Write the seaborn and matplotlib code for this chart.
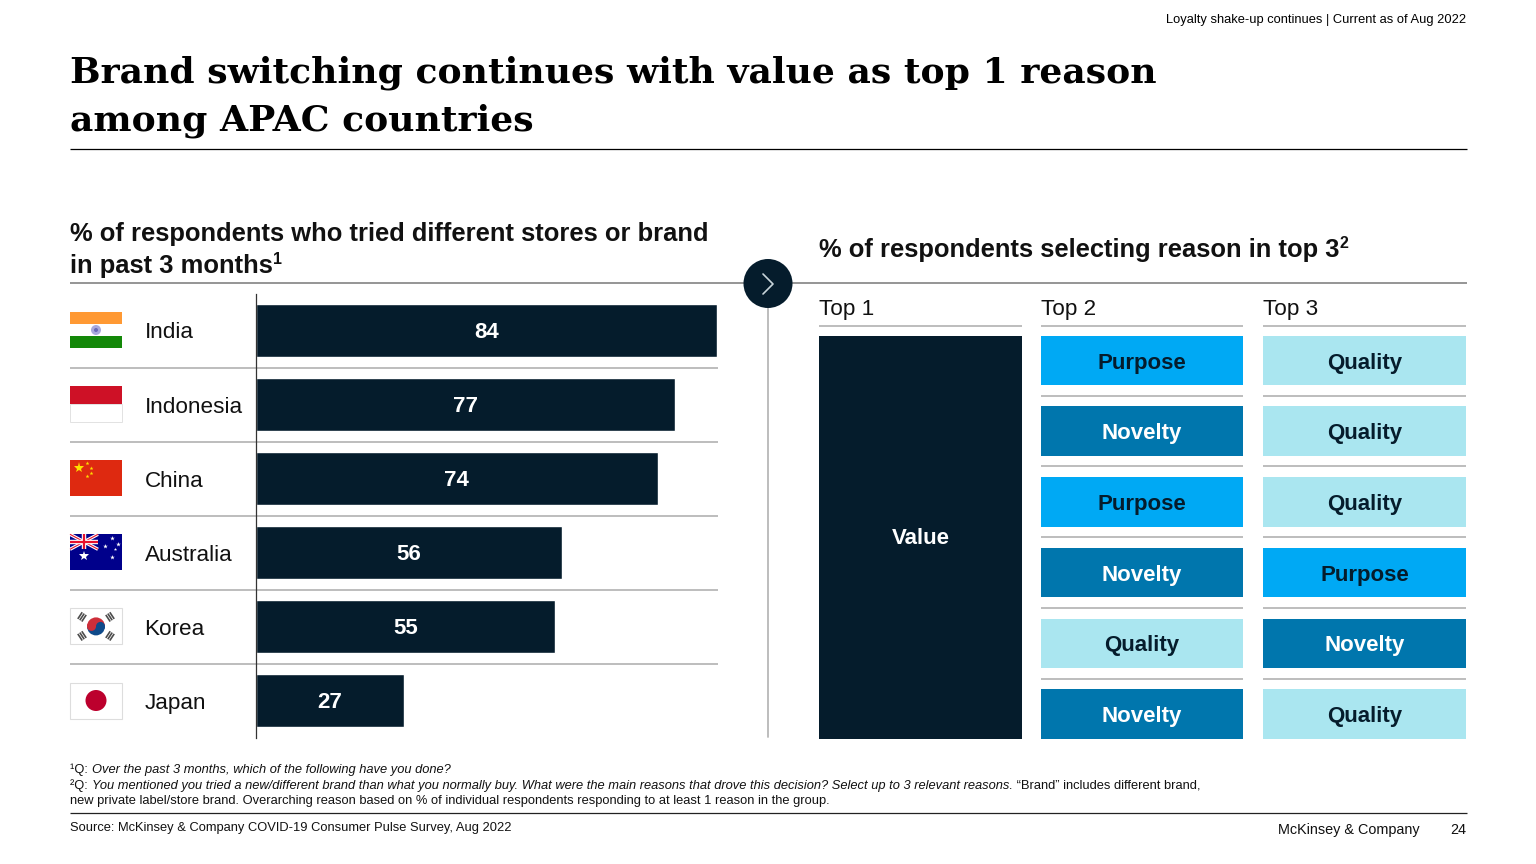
import matplotlib
matplotlib.use("Agg")
import matplotlib.pyplot as plt
from matplotlib.patches import Rectangle, Circle, Wedge
import seaborn as sns
import pandas as pd

countries = ["India", "Indonesia", "China", "Australia", "Korea", "Japan"]
bar_lengths = [84, 76.3, 73.2, 55.8, 54.5, 27]
bar_labels = ["84", "77", "74", "56", "55", "27"]
top1_reason = ["Value"]
top2_reasons = ["Purpose", "Novelty", "Purpose", "Novelty", "Quality", "Novelty"]
top3_reasons = ["Quality", "Quality", "Quality", "Purpose", "Novelty", "Quality"]
column_heads = ["Top 1", "Top 2", "Top 3"]

NAVY = "#051c2c"
GREY = "#b8b8b8"
reason_fill = {"Purpose": "#00a9f4", "Novelty": "#0076ad", "Quality": "#aae6f0"}
reason_text = {"Purpose": NAVY, "Novelty": "white", "Quality": NAVY}

sns.set_theme(style="white")
plt.rcParams["font.family"] = ["Liberation Sans", "DejaVu Sans"]

fig = plt.figure(figsize=(15.36, 8.64), dpi=100, facecolor="white")
bg = fig.add_axes([0, 0, 1, 1])
bg.set_xlim(0, 1536)
bg.set_ylim(864, 0)
bg.axis("off")
renderer = fig.canvas.get_renderer()

def hline(x0, x1, y, color=GREY, lw=1.3, z=1):
    bg.plot([x0, x1], [y, y], color=color, lw=lw, solid_capstyle="butt", zorder=z)

def heading(x, y, s, sup=None):
    t = bg.text(x, y, s, fontsize=18.4, weight="bold", va="center", color="#111111")
    if sup:
        x1 = t.get_window_extent(renderer).x1
        bg.text(x1 + 0.5, y - 6, sup, fontsize=11.5, weight="bold", va="center", color="#111111")

# Header
bg.text(1466, 19.5, "Loyalty shake-up continues | Current as of Aug 2022", ha="right", va="center",
        fontsize=9.3, color="black")
for y, s in zip([73, 121], ["Brand switching continues with value as top 1 reason",
                            "among APAC countries"]):
    bg.text(70, y, s, family="DejaVu Serif", weight="bold", fontsize=26, va="center",
            color="black")
hline(70, 1467, 149.2, color="black", lw=0.9)

# Section headings
heading(70, 234.5, "% of respondents who tried different stores or brand")
heading(70, 265.5, "in past 3 months", "1")
heading(819, 249.5, "% of respondents selecting reason in top 3", "2")
hline(70, 1467, 283.2, color="#8c8c8c")

# Divider and chevron
bg.plot([768, 768], [300, 737], color=GREY, lw=1.3, zorder=1)
bg.add_patch(Circle((768, 283.5), 24.5, fc=NAVY, ec="none", zorder=3))
bg.plot([763, 773, 763], [274, 284, 294], color="#c8d4da", lw=1.2, zorder=4)

# Left bar chart
bar_ax = fig.add_axes([255.5 / 1536, 1 - 737.5 / 864, (717 - 255.5) / 1536, 444 / 864])
bar_ax.patch.set_alpha(0)
df = pd.DataFrame({"country": countries, "share": bar_lengths})
sns.barplot(data=df, x="share", y="country", color=NAVY, saturation=1, width=0.71, ax=bar_ax)
bar_ax.set_xlim(0, 84)
bar_ax.set_xlabel("")
bar_ax.set_ylabel("")
bar_ax.set_xticks([])
bar_ax.set_yticks(range(len(countries)))
bar_ax.set_yticklabels([])
bar_ax.tick_params(length=0)
for side in ["top", "right", "bottom"]:
    bar_ax.spines[side].set_visible(False)
bar_ax.spines["left"].set_color("#333333")
bar_ax.spines["left"].set_linewidth(0.9)
for i, (v, lab) in enumerate(zip(bar_lengths, bar_labels)):
    bar_ax.annotate(lab, (v / 2, i), xytext=(0, -1.5), textcoords="offset points", color="white",
                    ha="center", va="center", fontsize=16, weight="bold")

ROW = 74.1
for i, name in enumerate(countries):
    yc = 331 + i * ROW
    bg.text(144.5, yc + 2, name, fontsize=16.2, va="center", color="#111111")
    if i < len(countries) - 1:
        hline(70, 718, yc + 37)

# Flags
def flag_box(yc):
    return 70, yc - 18, 52, 36

def flag_india(yc):
    x, y, w, h = flag_box(yc)
    for k, c in enumerate(["#ff9933", "white", "#138808"]):
        bg.add_patch(Rectangle((x, y + k * h / 3), w, h / 3, fc=c, ec="none"))
    bg.add_patch(Circle((x + w / 2, y + h / 2), 5, fc="#a9a9dc", ec="none"))
    bg.add_patch(Circle((x + w / 2, y + h / 2), 2, fc="#6a6ab8", ec="none"))

def flag_indonesia(yc):
    x, y, w, h = flag_box(yc)
    bg.add_patch(Rectangle((x, y), w, h / 2, fc="#ce1126", ec="none"))
    bg.add_patch(Rectangle((x, y + h / 2), w, h / 2, fc="white", ec="#e2e2e2", lw=0.7))

def flag_china(yc):
    x, y, w, h = flag_box(yc)
    bg.add_patch(Rectangle((x, y), w, h, fc="#de2910", ec="none"))
    bg.plot([x + 9], [y + 8], marker="*", ms=8, color="#ffde00", mew=0)
    for dx, dy in [(17, 3), (21, 8), (21, 13), (17, 16)]:
        bg.plot([x + dx], [y + dy], marker="*", ms=3, color="#ffde00", mew=0)

def flag_australia(yc):
    x, y, w, h = flag_box(yc)
    bg.add_patch(Rectangle((x, y), w, h, fc="#00008b", ec="none"))
    ux, uy = 28, 15
    for col, lw in [("white", 2.4), ("#e8112d", 0.8)]:
        bg.plot([x, x + ux], [y, y + uy], color=col, lw=lw, solid_capstyle="butt")
        bg.plot([x, x + ux], [y + uy, y], color=col, lw=lw, solid_capstyle="butt")
    for col, lw in [("white", 3.2), ("#e8112d", 1.6)]:
        bg.plot([x + ux / 2] * 2, [y, y + uy], color=col, lw=lw, solid_capstyle="butt")
        bg.plot([x, x + ux], [y + uy / 2] * 2, color=col, lw=lw, solid_capstyle="butt")
    bg.plot([x + 14], [y + 22], marker="*", ms=7, color="white", mew=0)
    for dx, dy, s in [(42, 4, 3.5), (35, 12, 3.5), (48, 10, 3.5), (45, 15, 2.5), (42, 23, 3.5)]:
        bg.plot([x + dx], [y + dy], marker="*", ms=s, color="white", mew=0)

def flag_korea(yc):
    x, y, w, h = flag_box(yc)
    bg.add_patch(Rectangle((x, y), w, h, fc="white", ec="#dddddd", lw=0.8))
    cx, cy = x + w / 2, y + h / 2
    bg.add_patch(Wedge((cx, cy), 9, 180, 360, fc="#cd2e3a", ec="none"))
    bg.add_patch(Wedge((cx, cy), 9, 0, 180, fc="#0f4a8a", ec="none"))
    bg.add_patch(Circle((cx - 4.5, cy), 4.5, fc="#cd2e3a", ec="none"))
    bg.add_patch(Circle((cx + 4.5, cy), 4.5, fc="#0f4a8a", ec="none"))
    for sx, sy in [(-1, -1), (1, -1), (-1, 1), (1, 1)]:
        rx, ry = sx * 0.83, sy * 0.55
        px, py = -ry, rx
        for off in (-2.4, 0, 2.4):
            mx = cx + sx * 14 + rx * off
            my = cy + sy * 9.5 + ry * off
            bg.plot([mx - px * 4, mx + px * 4], [my - py * 4, my + py * 4],
                    color="#4d4d4d", lw=1.2, solid_capstyle="butt")

def flag_japan(yc):
    x, y, w, h = flag_box(yc)
    bg.add_patch(Rectangle((x, y), w, h, fc="white", ec="#dddddd", lw=0.8))
    bg.add_patch(Circle((x + w / 2, y + h / 2), 10.5, fc="#bc002d", ec="none"))

flag_painters = [flag_india, flag_indonesia, flag_china, flag_australia, flag_korea, flag_japan]
for i, paint in enumerate(flag_painters):
    paint(330 + i * ROW)

# Right reason table
col_x = [819, 1041, 1263]
col_w = [203, 202, 203]
for x, w, head in zip(col_x, col_w, column_heads):
    bg.text(x, 310, head, fontsize=16.2, va="center", color="#111111")
    hline(x, x + w, 326)

bg.add_patch(Rectangle((col_x[0], 335.5), col_w[0], 403, fc=NAVY, ec="none"))
bg.text(col_x[0] + col_w[0] / 2, 539, top1_reason[0], color="white", fontsize=16, weight="bold",
        ha="center", va="center")

ROW_R = 70.75
for j, reasons in enumerate([top2_reasons, top3_reasons], start=1):
    for i, reason in enumerate(reasons):
        y0 = 335.5 + i * ROW_R
        bg.add_patch(Rectangle((col_x[j], y0), col_w[j], 49.5, fc=reason_fill[reason], ec="none"))
        bg.text(col_x[j] + col_w[j] / 2, y0 + 27.5, reason, color=reason_text[reason], fontsize=16,
                weight="bold", ha="center", va="center")
        if i < len(reasons) - 1:
            hline(col_x[j], col_x[j] + col_w[j], y0 + 60.2)

# Footer
notes = [
    (770, "¹Q: ", "Over the past 3 months, which of the following have you done?", ""),
    (786, "²Q: ", "You mentioned you tried a new/different brand than what you normally buy. What were the main reasons that drove this decision? Select up to 3 relevant reasons.",
     " “Brand” includes different brand,"),
]
for y, head, ital, tail in notes:
    x = 70
    for s, style in [(head, "normal"), (ital, "italic"), (tail, "normal")]:
        if not s:
            continue
        t = bg.text(x, y, s, fontsize=9.3, style=style, va="center", color="#111111")
        x = t.get_window_extent(renderer).x1 + (1 if s.endswith(" ") else 0)
bg.text(70, 801, "new private label/store brand. Overarching reason based on % of individual respondents responding to at least 1 reason in the group.",
        fontsize=9.3, va="center", color="#111111")
hline(70, 1467, 813, color="#222222", lw=0.9)
bg.text(70, 828.5, "Source: McKinsey & Company COVID-19 Consumer Pulse Survey, Aug 2022", fontsize=9.3,
        va="center", color="#111111")
bg.text(1420, 830, "McKinsey & Company", fontsize=10.4, ha="right", va="center", color="#111111")
bg.text(1466, 830, "24", fontsize=10.4, ha="right", va="center", color="#111111")

fig.savefig("out.png", dpi=100, facecolor="white")
